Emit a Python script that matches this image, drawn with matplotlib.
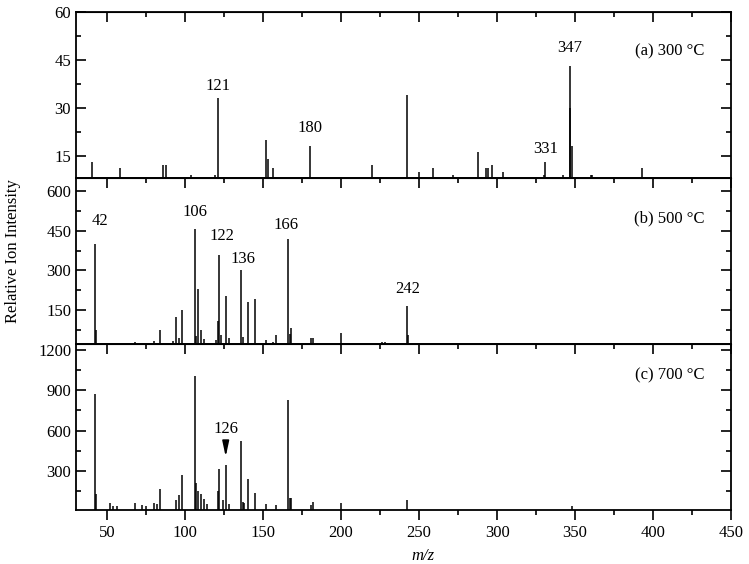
import numpy as np
import matplotlib
matplotlib.use('Agg')
import matplotlib.pyplot as plt
from matplotlib.ticker import MultipleLocator

plt.rcParams['font.family'] = ['Liberation Serif', 'DejaVu Serif']
plt.rcParams['font.size'] = 12

# (a) 300 C
mz_a = [40, 58, 86, 88, 104, 119, 121, 152, 153, 156, 180, 220, 242, 250, 259,
        272, 288, 293, 294, 297, 304, 330, 331, 342, 346.5, 347, 348, 360, 361, 393]
int_a = [13, 11, 12, 12, 9, 9, 33, 20, 14, 11, 18, 12, 34, 10, 11,
         9, 16, 11, 11, 12, 10, 9, 13, 9, 30, 43, 18, 9, 9, 11]

# (b) 500 C
mz_b = [42, 43, 68, 80, 84, 92, 94, 96, 98, 106, 107, 108, 110, 112, 120, 121,
        122, 123, 126, 128, 136, 137, 140, 145, 152, 156, 158, 166, 167, 168,
        181, 182, 200, 226, 228, 242, 243]
int_b = [400, 75, 27, 33, 73, 33, 125, 42, 150, 458, 50, 228, 73, 40, 35, 110,
         358, 55, 204, 42, 300, 48, 182, 193, 35, 28, 55, 420, 60, 80,
         42, 45, 62, 30, 30, 165, 55]

# (c) 700 C
mz_c = [42, 43, 52, 54, 56, 68, 72, 75, 80, 82, 84, 94, 96, 98, 106, 107, 108,
        110, 112, 114, 121, 122, 124, 126, 128, 136, 137, 138, 140, 145, 152,
        158, 166, 167, 168, 181, 182, 200, 242, 348]
int_c = [875, 125, 62, 40, 40, 62, 45, 37, 57, 50, 168, 80, 120, 270, 1010, 210,
         150, 130, 88, 50, 150, 313, 85, 340, 55, 523, 70, 57, 240, 138, 52,
         47, 825, 95, 95, 47, 68, 57, 83, 40]

# peak labels: (m/z, text, x offset px, y offset px above the peak top)
labels_a = [(121, '121', 0, 12), (180, '180', 0, 18), (347, '347', -1, 18), (331, '331', 0, 13)]
labels_b = [(42, '42', 5, 23), (106, '106', 0, 17), (122, '122', 2, 19),
            (136, '136', 2, 11), (166, '166', -2, 14), (242, '242', 1, 17)]

panels = [
    (mz_a, int_a, (8, 60), 15, '(a) 300 °C', 0.76, labels_a),
    (mz_b, int_b, (21, 651), 150, '(b) 500 °C', 0.757, labels_b),
    (mz_c, int_c, (8, 1245), 300, '(c) 700 °C', 0.813, []),
]

fig = plt.figure(figsize=(7.49, 5.64), dpi=100)
left, right = 76 / 749, 731 / 749
tops = [12, 178, 344]
h = 166

axes = []
for i, (mz, inten, ylim, step, title, ty, labels) in enumerate(panels):
    ax = fig.add_axes([left, 1 - (tops[i] + h) / 564, right - left, h / 564])
    ax.vlines(mz, 0, inten, color='black', lw=1.1)
    ax.set_xlim(30, 450)
    ax.set_ylim(*ylim)
    ax.xaxis.set_major_locator(MultipleLocator(50))
    ax.xaxis.set_minor_locator(MultipleLocator(25))
    ax.yaxis.set_major_locator(MultipleLocator(step))
    ax.yaxis.set_minor_locator(MultipleLocator(step / 2))
    ax.tick_params(axis='y', which='both', direction='in', left=True, right=True, width=1.2)
    ax.tick_params(axis='y', which='major', length=7)
    ax.tick_params(axis='y', which='minor', length=3.5)
    for s in ax.spines.values():
        s.set_linewidth(1.3)
    sec = ax.secondary_xaxis('top')
    sec.xaxis.set_major_locator(MultipleLocator(50))
    sec.xaxis.set_minor_locator(MultipleLocator(25))
    sec.tick_params(which='both', direction='in', labeltop=False, width=1.2)
    sec.tick_params(which='major', length=7)
    sec.tick_params(which='minor', length=3.5)
    if i < 2:
        ax.tick_params(axis='x', which='both', bottom=False, labelbottom=False)
    else:
        ax.tick_params(axis='x', which='both', direction='out', width=1.2)
        ax.tick_params(axis='x', which='major', length=7)
        ax.tick_params(axis='x', which='minor', length=3.5)
    ax.text(0.96, ty, title, transform=ax.transAxes, ha='right', va='center', fontsize=12)
    d = dict(zip(mz, inten))
    for m, lab, dx, dy in labels:
        ax.annotate(lab, (m, d[m]), xytext=(dx * 0.72, dy * 0.72), textcoords='offset points',
                    ha='center', va='center', fontsize=12)
    axes.append(ax)

# arrow marking m/z 126 in panel (c)
axes[2].annotate('126', xy=(126, 405), xytext=(126, 615), ha='center', va='center',
                 fontsize=12,
                 arrowprops=dict(arrowstyle='-|>,head_length=0.65,head_width=0.14',
                                 color='black', lw=1.2,
                                 mutation_scale=14, shrinkA=4, shrinkB=0))

fig.text(13 / 749, 1 - 251 / 564, 'Relative Ion Intensity', rotation=90,
         ha='center', va='center', fontsize=12)
fig.text(423 / 749, 1 - 556 / 564, 'm/z', style='italic', ha='center', va='center',
         fontsize=12)

fig.savefig('out.png', dpi=100)
